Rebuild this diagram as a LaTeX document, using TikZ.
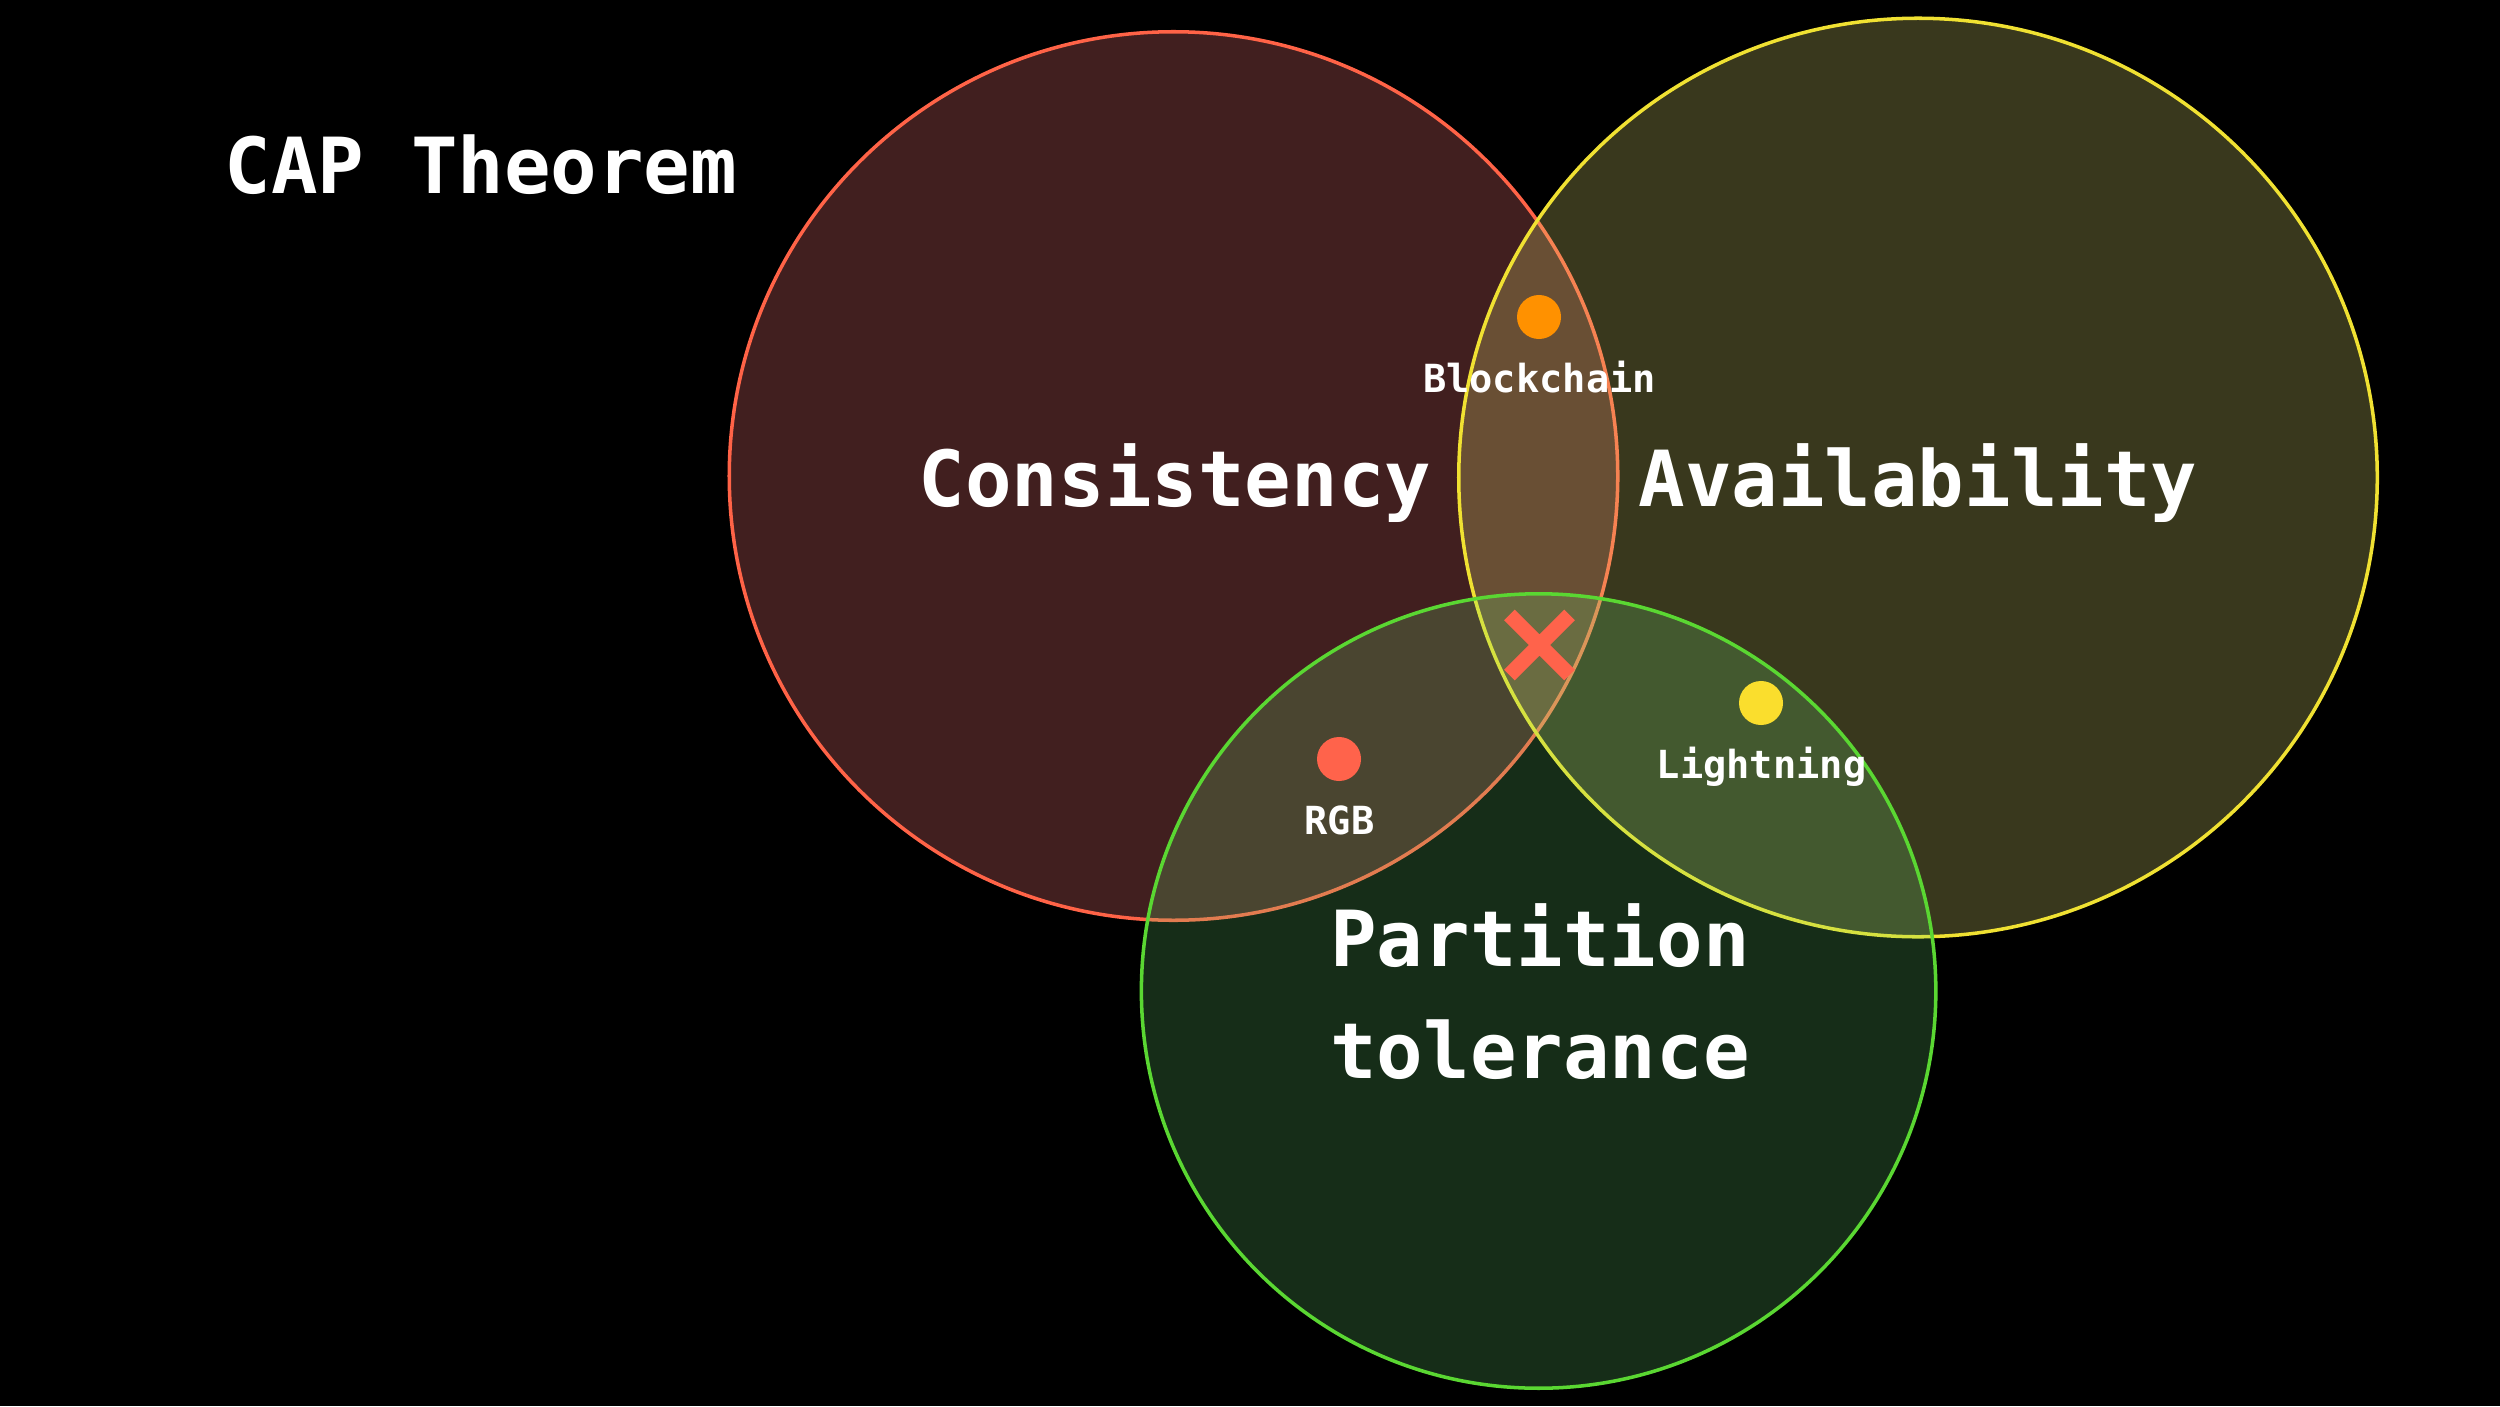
\documentclass[tikz,border=0pt]{standalone}
\usepackage{fontspec}
\setmonofont{DejaVu Sans Mono}
\usepackage{tikz}
\usetikzlibrary{shapes.misc,positioning}
\usepackage{xcolor}
\definecolor{consline}{RGB}{255,99,71}
\definecolor{consfill}{RGB}{254,123,123}
\definecolor{availline}{RGB}{240,225,50}
\definecolor{availfill}{RGB}{223,219,115}
\definecolor{partline}{RGB}{90,215,50}
\definecolor{partfill}{RGB}{110,225,120}
\definecolor{dotorange}{RGB}{255,145,0}
\definecolor{dotyellow}{RGB}{250,222,45}
\definecolor{dotred}{RGB}{255,99,75}

\begin{document}
\begin{tikzpicture}[
    x=0.01cm, y=-0.01cm,
    zone/.style={circle, line width=1pt, inner sep=0pt},
    dot/.style={circle, inner sep=0pt, minimum size=0.44cm},
    big/.style={text=white, inner sep=0pt, align=center,
        font=\fontsize{22}{31.7}\selectfont\ttfamily\bfseries},
    lbl/.style={text=white, inner sep=0pt, anchor=base,
        font=\fontsize{11}{13}\selectfont\ttfamily\bfseries}
]
    % Background
    \fill[black] (0,0) rectangle (2500,1406);

    % The three properties
    \node[zone, draw=consline, fill=consfill, fill opacity=0.26, minimum size=8.88cm] (cons) at (1173.5,476) {};
    \node[zone, draw=availline, fill=availfill, fill opacity=0.26, minimum size=9.18cm] (avail) at (1918,477.5) {};
    \node[zone, draw=partline, fill=partfill, fill opacity=0.2, minimum size=7.94cm] (part) at (1538.6,991) {};

    % Labels
    \node[big, anchor=base] (title) at (481,193) {CAP Theorem};
    \node[big, anchor=base] (constxt) at (1175,506) {Consistency};
    \node[big, anchor=base] (availtxt) at (1918,506) {Availability};
    \node[big] (parttxt) at (1540,991.5) {Partition\\tolerance};

    % Systems
    \node[dot, fill=dotorange] (bc) at (1539,317) {};
    \node[lbl] (bctxt) at (1539.5,392) {Blockchain};
    \node[dot, fill=dotyellow] (ln) at (1761,703) {};
    \node[lbl] (lntxt) at (1761.5,778) {Lightning};
    \node[dot, fill=dotred] (rgb) at (1339,759) {};
    \node[lbl] (rgbtxt) at (1339.5,834) {RGB};

    % No system in the middle
    \node[cross out, draw=dotred, line width=0.15cm, inner sep=0pt, minimum size=0.45cm] (none) at (1539.5,645) {};
\end{tikzpicture}
\end{document}
